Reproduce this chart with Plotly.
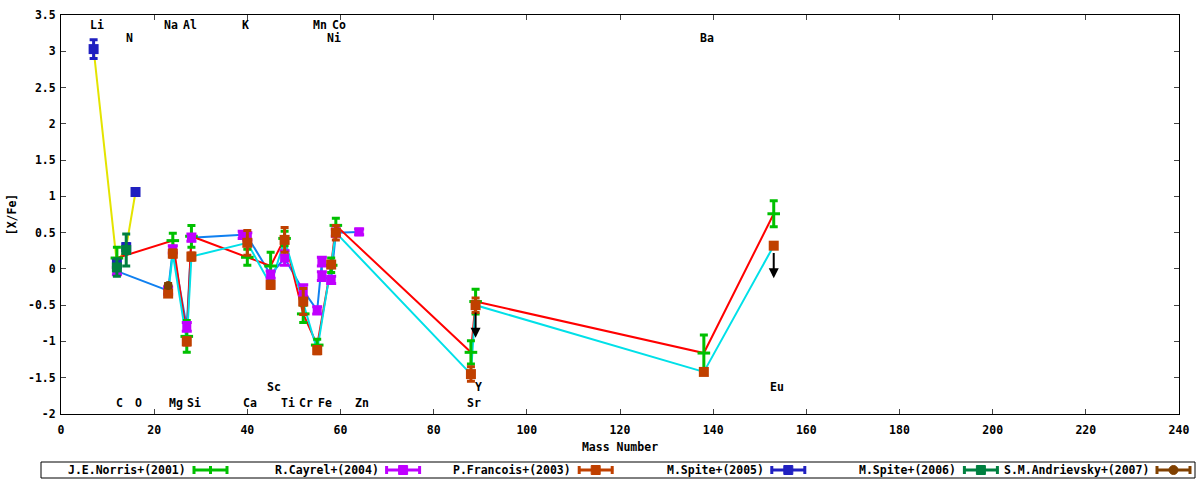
import plotly.graph_objects as go

# ---------------- data ----------------
norris_mass = [12, 24, 27, 28, 40, 45, 48, 52, 55, 58, 59, 88, 89, 138, 153]
norris_val = [0.15, 0.39, -0.93, 0.45, 0.16, 0.04, 0.42, -0.62, -1.05, 0.05, 0.60, -1.15, -0.45, -1.16, 0.76]
norris_err = [0.15, 0.10, 0.22, 0.15, 0.11, 0.19, 0.10, 0.12, 0.08, 0.10, 0.10, 0.16, 0.17, 0.25, 0.18]

cayrel_mass = [12, 23, 24, 27, 28, 39, 40, 45, 48, 52, 55, 56, 56, 58, 59, 64]
cayrel_val = [-0.03, -0.30, 0.27, -0.80, 0.43, 0.47, 0.45, -0.08, 0.15, -0.30, -0.57, 0.10, -0.10, -0.15, 0.50, 0.51]
cayrel_err = [0.05, 0.05, 0.05, 0.06, 0.05, 0.05, 0.05, 0.05, 0.10, 0.08, 0.05, 0.06, 0.06, 0.05, 0.05, 0.04]

francois_mass = [23, 24, 27, 28, 40, 45, 48, 52, 55, 58, 59, 88, 89, 138, 153]
francois_val = [-0.34, 0.21, -1.00, 0.17, 0.36, -0.22, 0.40, -0.45, -1.12, 0.06, 0.50, -1.45, -0.50, -1.42, 0.32]
francois_err = [0.04, 0.05, 0.05, 0.05, 0.17, 0.05, 0.17, 0.18, 0.05, 0.04, 0.10, 0.10, 0.10, 0.03, 0.03]
francois_upper = [False, False, False, False, False, False, False, False, False, False, False, False, True, False, True]

spite05_mass = [7, 12, 14, 16]
spite05_val = [3.03, 0.07, 0.30, 1.06]
spite05_err = [0.13, 0.05, 0.05, 0.02]

spite06_mass = [12, 14]
spite06_val = [0.02, 0.26]
spite06_err = [0.12, 0.22]

andri_mass = [23]
andri_val = [-0.23]
andri_err = [0.03]

series_names = ["J.E.Norris+(2001)", "R.Cayrel+(2004)", "P.Francois+(2003)",
                "M.Spite+(2005)", "M.Spite+(2006)", "S.M.Andrievsky+(2007)"]

elem_names = ["Li", "C", "N", "O", "Na", "Mg", "Al", "Si", "K", "Ca", "Sc", "Ti",
              "Cr", "Mn", "Fe", "Ni", "Co", "Zn", "Sr", "Y", "Ba", "Eu"]
elem_mass = [7, 12, 14, 16, 23, 24, 27, 28, 39, 40, 45, 48,
             52, 55, 56, 58, 59, 64, 88, 89, 138, 153]
elem_tier = ["top", "bottom", "top2", "bottom", "top", "bottom", "top", "bottom", "top", "bottom", "bottom2", "bottom",
             "bottom", "top", "bottom", "top2", "top", "bottom", "bottom", "bottom2", "top2", "bottom2"]

x_ticks = [0, 20, 40, 60, 80, 100, 120, 140, 160, 180, 200, 220, 240]
y_ticks = [3.5, 3, 2.5, 2, 1.5, 1, 0.5, 0, -0.5, -1, -1.5, -2]
y_tick_labels = ["3.5", "3", "2.5", "2", "1.5", "1", "0.5", "0", "-0.5", "-1", "-1.5", "-2"]

# ---------------- style ----------------
FONT = dict(family="DejaVu Sans Mono", size=11.5, color="black", weight="bold")
tier_y = {"top": 3.36, "top2": 3.18, "bottom": -1.85, "bottom2": -1.63}
W, H = 1200, 480
ML, MR, MT, MB = 61, 21, 15, 66
PW, PH = W - ML - MR, H - MT - MB

C_NOR, C_CAY, C_FRA, C_SP5, C_SP6, C_AND = "#00c000", "#c000ff", "#c04000", "#2020c0", "#008040", "#804000"
series_style = [(C_NOR, "bar"), (C_CAY, "square"), (C_FRA, "square"),
                (C_SP5, "square"), (C_SP6, "square"), (C_AND, "circle")]

fig = go.Figure()

# connecting lines (drawn under the markers)
for mass, val, col in [(spite05_mass, spite05_val, "#e4e400"),
                       (cayrel_mass, cayrel_val, "#1080f0"),
                       (norris_mass, norris_val, "#ff0000"),
                       (francois_mass, francois_val, "#00e0e8")]:
    fig.add_trace(go.Scatter(x=mass, y=val, mode="lines", line=dict(color=col, width=2),
                             showlegend=False, hoverinfo="skip"))

def eb(arr, col, th=3, w=4):
    return dict(type="data", array=arr, color=col, thickness=th, width=w, visible=True)

fig.add_trace(go.Scatter(
    x=norris_mass, y=norris_val, mode="markers", name=series_names[0],
    marker=dict(symbol="line-ew", size=9, line=dict(color=C_NOR, width=3), color=C_NOR),
    error_y=eb(norris_err, C_NOR, 3, 4)))
fig.add_trace(go.Scatter(
    x=cayrel_mass, y=cayrel_val, mode="markers", name=series_names[1],
    marker=dict(symbol="square", size=9, color=C_CAY),
    error_y=eb(cayrel_err, C_CAY, 3, 5)))
fig.add_trace(go.Scatter(
    x=francois_mass, y=francois_val, mode="markers", name=series_names[2],
    marker=dict(symbol="square", size=10, color=C_FRA),
    error_y=eb(francois_err, C_FRA, 3, 4)))
fig.add_trace(go.Scatter(
    x=spite05_mass, y=spite05_val, mode="markers", name=series_names[3],
    marker=dict(symbol="square", size=10, color=C_SP5),
    error_y=eb(spite05_err, C_SP5, 3, 4)))
fig.add_trace(go.Scatter(
    x=spite06_mass, y=spite06_val, mode="markers", name=series_names[4],
    marker=dict(symbol="square", size=10, color=C_SP6),
    error_y=eb(spite06_err, C_SP6, 3, 4)))
fig.add_trace(go.Scatter(
    x=andri_mass, y=andri_val, mode="markers", name=series_names[5],
    marker=dict(symbol="circle", size=9, color=C_AND),
    error_y=eb(andri_err, C_AND, 3, 4)))
fig.update_traces(showlegend=False)

annotations = []
shapes = []
# upper-limit arrows
ARROW_LEN = 0.45
for m, v, up in zip(francois_mass, francois_val, francois_upper):
    if up:
        annotations.append(dict(x=m, y=v - ARROW_LEN, ax=m, ay=v - 0.08, xref="x", yref="y",
                                axref="x", ayref="y", showarrow=True, arrowhead=2,
                                arrowsize=1, arrowwidth=2, arrowcolor="black", text=""))
# element labels
for n, m, t in zip(elem_names, elem_mass, elem_tier):
    annotations.append(dict(x=m, y=tier_y[t], xref="x", yref="y", text=n, showarrow=False,
                            xshift=3, font=FONT))

# ---- gnuplot-style key (text then sample) below the plot ----
def px(xp):
    return (xp - ML) / PW

def py(yp):
    return (H - MB - yp) / PH

KEY_L, KEY_R, KEY_T, KEY_B = 41, 1195, 462, 478
KEY_Y = 470
shapes.append(dict(type="rect", xref="paper", yref="paper", x0=px(KEY_L), x1=px(KEY_R),
                   y0=py(KEY_B), y1=py(KEY_T), line=dict(color="black", width=1),
                   fillcolor="white", layer="below"))
for i, (name, (col, kind)) in enumerate(zip(series_names, series_style)):
    text_end = 188 + 192.6 * i
    annotations.append(dict(x=px(text_end), y=py(KEY_Y), xref="paper", yref="paper",
                            text=name, showarrow=False, xanchor="right", yanchor="middle",
                            font=FONT))
    s0, s1 = text_end + 5, text_end + 40
    sc = (s0 + s1) / 2
    ln = dict(color=col, width=3)
    shapes.append(dict(type="line", xref="paper", yref="paper", x0=px(s0), x1=px(s1),
                       y0=py(KEY_Y), y1=py(KEY_Y), line=ln))
    for xe in (s0 + 1, s1 - 1):
        shapes.append(dict(type="line", xref="paper", yref="paper", x0=px(xe), x1=px(xe),
                           y0=py(KEY_Y - 4), y1=py(KEY_Y + 4), line=ln))
    if kind == "bar":
        shapes.append(dict(type="line", xref="paper", yref="paper", x0=px(sc), x1=px(sc),
                           y0=py(KEY_Y - 4), y1=py(KEY_Y + 4), line=ln))
    else:
        shapes.append(dict(type="rect" if kind == "square" else "circle", xref="paper",
                           yref="paper", x0=px(sc - 4.5), x1=px(sc + 4.5),
                           y0=py(KEY_Y + 4.5), y1=py(KEY_Y - 4.5),
                           line=dict(color=col, width=1), fillcolor=col))

fig.update_layout(
    width=W, height=H,
    margin=dict(l=ML, r=MR, t=MT, b=MB, autoexpand=False),
    paper_bgcolor="white", plot_bgcolor="white",
    font=FONT,
    annotations=annotations,
    shapes=shapes,
    showlegend=False,
)
fig.update_xaxes(range=[0, 240], tickvals=x_ticks, ticks="inside", ticklen=5, mirror="ticks",
                 showline=True, linecolor="black", linewidth=1, showgrid=False, zeroline=False,
                 automargin=False, ticklabelstandoff=5,
                 title=dict(text="Mass Number", font=FONT, standoff=7), tickfont=FONT)
fig.update_yaxes(range=[-2, 3.5], tickvals=y_ticks, ticktext=y_tick_labels, ticks="inside",
                 ticklen=5, mirror="ticks", showline=True, linecolor="black", linewidth=1,
                 showgrid=False, zeroline=False, automargin=False, ticklabelstandoff=2,
                 title=dict(text="[X/Fe]", font=FONT, standoff=8), tickfont=FONT)

fig.write_html("out.html", config={"displayModeBar": False},
               post_script="document.body.style.margin='0px';")
